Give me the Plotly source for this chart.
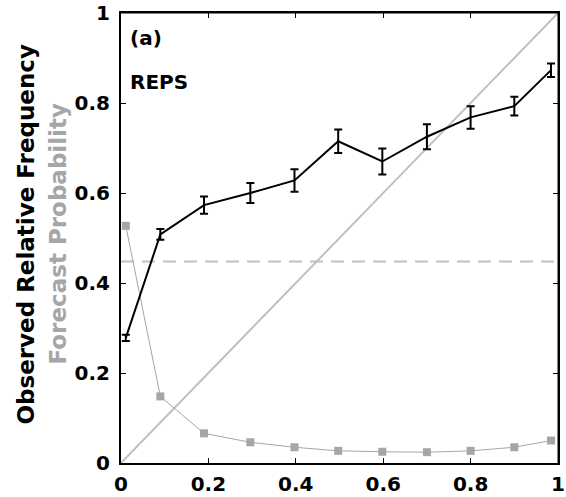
import plotly.graph_objects as go

# Data
fc_prob = [0.011, 0.09, 0.19, 0.296, 0.397, 0.497, 0.598, 0.70, 0.80, 0.90, 0.984]
obs_freq = [0.278, 0.508, 0.573, 0.600, 0.628, 0.715, 0.670, 0.725, 0.768, 0.793, 0.873]
obs_err = [0.007, 0.012, 0.019, 0.022, 0.025, 0.026, 0.029, 0.028, 0.025, 0.021, 0.015]
fc_freq = [0.527, 0.148, 0.066, 0.046, 0.035, 0.027, 0.025, 0.024, 0.027, 0.035, 0.050]
climatology = 0.448
tick_vals = [0, 0.2, 0.4, 0.6, 0.8, 1]
tick_text = ["0", "0.2", "0.4", "0.6", "0.8", "1"]

FONT = "DejaVu Sans, sans-serif"
GRAY = "#c0c0c0"
SQ = "#a6a6a6"

fig = go.Figure()

# diagonal
fig.add_trace(go.Scatter(x=[0, 1], y=[0, 1], mode="lines",
                         line=dict(color=GRAY, width=2), hoverinfo="skip"))
# climatology dashed
fig.add_trace(go.Scatter(x=[0, 1], y=[climatology, climatology], mode="lines",
                         line=dict(color=GRAY, width=2, dash="13px,8px"), hoverinfo="skip"))
# forecast frequency (gray squares)
fig.add_trace(go.Scatter(x=fc_prob, y=fc_freq, mode="lines+markers",
                         line=dict(color=SQ, width=1),
                         marker=dict(symbol="square", size=8, color=SQ)))
# observed relative frequency with error bars
fig.add_trace(go.Scatter(x=fc_prob, y=obs_freq, mode="lines",
                         line=dict(color="black", width=2),
                         error_y=dict(type="data", array=obs_err, visible=True,
                                      color="black", thickness=2, width=4)))

fig.update_layout(
    width=566, height=497,
    margin=dict(l=121, r=1, t=13, b=31),
    plot_bgcolor="white", paper_bgcolor="white",
    showlegend=False,
    font=dict(family=FONT, color="black"),
)
axis_common = dict(
    range=[0, 1], tickvals=tick_vals, ticktext=tick_text,
    ticks="inside", ticklen=5, tickwidth=1, tickcolor="black",
    showline=True, linecolor="black", linewidth=2, mirror="ticks",
    showgrid=False, zeroline=False, ticklabeloverflow="allow",
    tickfont=dict(family=FONT, size=20, color="black", weight="bold"),
)
fig.update_xaxes(**axis_common, ticklabelstandoff=2)
fig.update_yaxes(**axis_common, ticklabelstandoff=5)

# top and right thin frame lines
fig.add_shape(type="line", xref="paper", yref="paper", x0=0, x1=1, y0=1, y1=1,
              line=dict(color="black", width=1))
fig.add_shape(type="line", xref="paper", yref="paper", x0=1, x1=1, y0=0, y1=1,
              line=dict(color="black", width=1))

fig.add_annotation(text="(a)", xref="paper", yref="paper", x=0.016, y=0.945,
                   xanchor="left", yanchor="middle", showarrow=False,
                   font=dict(family=FONT, size=20, color="black", weight="bold"))
fig.add_annotation(text="REPS", xref="paper", yref="paper", x=0.016, y=0.847,
                   xanchor="left", yanchor="middle", showarrow=False,
                   font=dict(family=FONT, size=20, color="black", weight="bold"))

# y titles
fig.add_annotation(text="Observed Relative Frequency", xref="paper", yref="paper",
                   x=-0.217, y=0.508, xanchor="center", yanchor="middle",
                   textangle=-90, showarrow=False,
                   font=dict(family=FONT, size=23, color="black", weight="bold"))
fig.add_annotation(text="Forecast Probability", xref="paper", yref="paper",
                   x=-0.144, y=0.508, xanchor="center", yanchor="middle",
                   textangle=-90, showarrow=False,
                   font=dict(family=FONT, size=23, color=SQ, weight="bold"))

fig.write_html("out.html", config={"displayModeBar": False},
               post_script="document.body.style.margin='0';document.body.style.padding='0';")
